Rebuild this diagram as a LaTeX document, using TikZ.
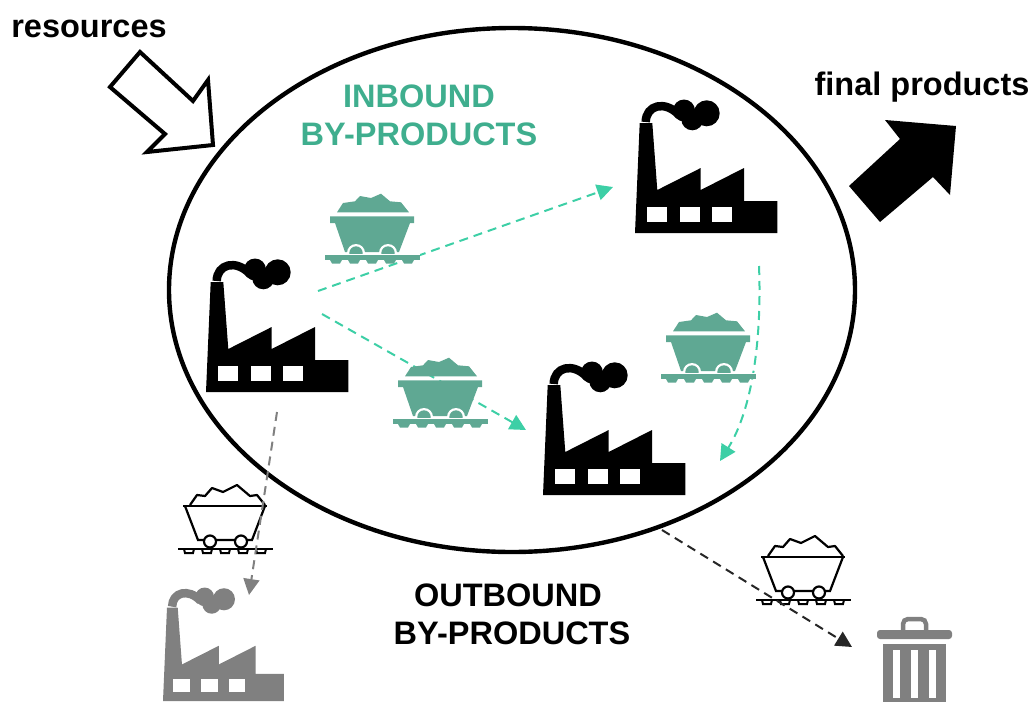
\documentclass[tikz,border=0pt]{standalone}
\usepackage{fontspec}
\setmainfont{Liberation Sans}
\usetikzlibrary{arrows.meta}

\definecolor{cartteal}{HTML}{5FA893}
\definecolor{flowteal}{HTML}{3DCFA6}
\definecolor{textteal}{HTML}{3FAE8E}
\definecolor{iconGray}{HTML}{808080}

\tikzset{
  label/.style={font=\fontsize{32.5}{36}\bfseries\selectfont, inner sep=0pt},
  flow/.style={line width=2pt, dash pattern=on 9pt off 6pt, -{Triangle[length=16pt,width=16pt]}},
  factory/.pic={
    \fill (0,0) -- (4.7,-110) -- (17.3,-110) -- (22.3,-43) -- (65.7,-65) -- (65.7,-43)
      -- (109,-65) -- (109,-32) -- (142.3,-32) -- (142.3,0) -- cycle;
    \fill[white] (12.3,-25.7) rectangle (32.3,-10.7);
    \fill[white] (44.7,-25.7) rectangle (64.7,-10.7);
    \fill[white] (77.3,-25.7) rectangle (96.7,-10.7);
    \draw[line width=8.5pt] (10.7,-111) .. controls (11,-128) and (30,-133) .. (44,-118);
    \fill (49,-122.5) circle (11);
    \fill (57.3,-113.7) circle (11);
    \fill (71.7,-119.7) circle (13);
  },
  cartsolid/.pic={
    \fill[cartteal] (-35,-45.7) -- (-29,-55) -- (-17,-56.7) -- (-12,-62) -- (-1,-60) -- (9,-64.3)
      -- (18,-56.7) -- (29,-55.7) -- (37,-45.7) -- cycle;
    \fill[cartteal] (-42,-41.7) -- (42,-41.7) -- (42,-35) -- (38,-35) -- (27,-6) -- (-27,-6) -- (-37,-35) -- (-42,-35) -- cycle;
    \fill[white] (-16,-5) circle (9);
    \fill[white] (16,-5) circle (9);
    \fill[cartteal] (-16,-5) circle (6.7);
    \fill[cartteal] (16,-5) circle (6.7);
    \fill[white] (-47,-4.5) rectangle (48,-3);
    \fill[cartteal] (-47,-3) rectangle (48,2);
    \foreach \tx in {-36,-18,0,18,36}
      \fill[cartteal] (\tx-6,2) -- (\tx+6,2) -- (\tx+4,5.5) -- (\tx-4,5.5) -- cycle;
  },
  cartline/.pic={
    \draw[line width=2.2pt, line join=round] (-35,-44) -- (-28,-54) -- (-20,-53) -- (-13,-61) -- (-2,-57) -- (12,-64)
      -- (25,-53) -- (32,-54) -- (40,-44);
    \draw[line width=2.4pt] (-42,-43) -- (42,-43);
    \draw[line width=2.2pt] (-40,-43) -- (-27,-9) -- (27,-9) -- (40,-43);
    \draw[line width=2.2pt, fill=white] (-15,-7.5) circle (6);
    \draw[line width=2.2pt, fill=white] (16,-7.5) circle (6);
    \draw[line width=2.2pt] (-47,0) -- (48,0);
    \foreach \tx in {-36,-18,0,18,36}
      \draw[line width=2pt] (\tx-5,0) -- (\tx-4,4) -- (\tx+4,4) -- (\tx+5,0);
  }
}

\begin{document}
\begin{tikzpicture}[x=1pt, y=-1pt]
  \useasboundingbox (0,0) rectangle (1034,702);

  % by-product flows, under the carts
  \coordinate (leftout1) at (318,291);
  \coordinate (topin) at (613,187);
  \coordinate (leftout2) at (322,314);
  \coordinate (midin1) at (526,430);
  \coordinate (topout) at (759,266);
  \coordinate (midin2) at (720,461);
  \coordinate (leftout3) at (277,412);
  \coordinate (grayin) at (249,595);
  \coordinate (ringout) at (662,530);
  \coordinate (binin) at (852,647);

  \draw [flow, flowteal] (leftout1) -- (topin);
  \draw [flow, flowteal] (leftout2) -- (midin1);
  \draw [flow, flowteal] (topout) .. controls (762,340) and (752,410) .. (midin2);

  \pic [color=black] at (206,392) {factory};
  \pic [color=black] at (635,233) {factory};
  \pic [color=black] at (543,495) {factory};
  \pic [color=iconGray, scale=0.85] at (163,701) {factory};

  \pic at (372,258) {cartsolid};
  \pic at (440,422) {cartsolid};
  \pic at (708,377) {cartsolid};

  \draw [line width=4.4pt] (512,290) ellipse (343 and 262);

  \pic at (225,549) {cartline};
  \pic at (803,600) {cartline};

  \draw [flow, iconGray] (leftout3) -- (grayin);
  \draw [flow, black!85] (ringout) -- (binin);

  % big arrows
  \draw [line width=4pt, miter limit=20, fill=white] (140,52) -- (193,101) -- (208,80) -- (213,145)
    -- (147,152) -- (165,134) -- (110,87) -- cycle;
  \fill (885,120) -- (956,126) -- (950,195) -- (933,177) -- (880,222) -- (849,186) -- (900,139) -- cycle;

  % bin
  \fill [iconGray, rounded corners=3pt] (877,630) rectangle (952,639);
  \draw [iconGray, line width=4.5pt, rounded corners=5pt] (903,631) -- (903,619) -- (926,619) -- (926,631);
  \fill [iconGray] (883,644) rectangle (946,702);
  \foreach \sx in {893,911,929}
    \fill [white] (\sx,650) rectangle (\sx+7,698);

  \node [label] (res) at (89,28.5) {resources};
  \node [label] (final) at (922,87) {final products};
  \node [label, textteal] (inb1) at (419,96) {INBOUND};
  \node [label, textteal] (inb2) at (419,134) {BY-PRODUCTS};
  \node [label] (outb1) at (508,595) {OUTBOUND};
  \node [label] (outb2) at (512,633) {BY-PRODUCTS};
\end{tikzpicture}
\end{document}
